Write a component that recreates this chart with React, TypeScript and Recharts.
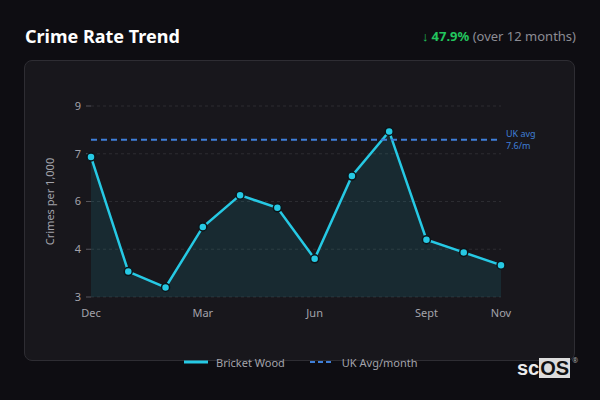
import React from 'react';
import {
  AreaChart,
  Area,
  XAxis,
  YAxis,
  CartesianGrid,
  ReferenceLine,
} from 'recharts';

// monthly crime rate, Dec -> Nov
const MONTHS = ['Dec', 'Jan', 'Feb', 'Mar', 'Apr', 'May', 'Jun', 'Jul', 'Aug', 'Sept', 'Oct', 'Nov'];
const RATES = [7.4, 3.8, 3.3, 5.2, 6.2, 5.8, 4.2, 6.8, 8.2, 4.8, 4.4, 4.0];
const SHOWN_MONTHS = ['Dec', 'Mar', 'Jun', 'Sept', 'Nov'];
const Y_TICKS = [3, 4.5, 6, 7.5, 9];
const UK_AVG_LINE = 7.94;
const UK_AVG_LABEL = ['UK avg', '7.6/m'];

const data = MONTHS.map((m, i) => ({ month: m, rate: RATES[i] }));

const FONT = '"Noto Sans", "Open Sans", sans-serif';
const CYAN = '#26c9e4';
const BLUE = '#3f7fd9';

const UkAvgLabel = ({ viewBox }: any) => {
  if (!viewBox) return null;
  const x = viewBox.x + viewBox.width + 5;
  const y = viewBox.y;
  return (
    <g fill={BLUE} fontSize={9} fontFamily={FONT}>
      <text x={x} y={y - 3}>{UK_AVG_LABEL[0]}</text>
      <text x={x} y={y + 9}>{UK_AVG_LABEL[1]}</text>
    </g>
  );
};

const App: React.FC = () => {
  return (
    <div
      style={{
        position: 'absolute',
        left: 0,
        top: 0,
        width: 600,
        height: 400,
        background: '#0e0d12',
        fontFamily: FONT,
        overflow: 'hidden',
      }}
    >
      <div style={{ position: 'absolute', left: 25, top: 24, fontSize: 18, fontWeight: 700, color: '#ffffff' }}>
        Crime Rate Trend
      </div>
      <div style={{ position: 'absolute', right: 24, top: 27, fontSize: 13, color: '#8c8c94' }}>
        <span style={{ color: '#22c55e', marginRight: 3 }}>↓</span>
        <span style={{ color: '#22c55e', fontWeight: 700 }}>47.9%</span> (over 12 months)
      </div>

      <div
        style={{
          position: 'absolute',
          left: 24,
          top: 60,
          width: 551,
          height: 301,
          boxSizing: 'border-box',
          background: '#18171c',
          border: '1px solid #2e2d33',
          borderRadius: 8,
        }}
      />

      <div style={{ position: 'absolute', left: 0, top: 0 }}>
        <AreaChart width={600} height={400} data={data} margin={{ top: 106, right: 99, left: 40, bottom: 73 }}>
          <CartesianGrid vertical={false} stroke="#2c2c31" strokeDasharray="3 3" />
          <XAxis
            dataKey="month"
            interval={0}
            axisLine={false}
            tickLine={false}
            tickMargin={6}
            height={30}
            tickFormatter={(v: string) => (SHOWN_MONTHS.includes(v) ? v : '')}
            tick={{ fill: '#a3a3ab', fontSize: 11, fontFamily: FONT }}
          />
          <YAxis
            domain={[3, 9]}
            ticks={Y_TICKS}
            width={51}
            axisLine={false}
            tickSize={5}
            tickMargin={5}
            tickLine={{ stroke: '#55555c' }}
            tickFormatter={(v: number) => String(Math.floor(v))}
            tick={{ fill: '#a3a3ab', fontSize: 11, fontFamily: FONT }}
            label={{
              value: 'Crimes per 1,000',
              angle: -90,
              position: 'insideLeft',
              offset: 10,
              style: { fill: '#a3a3ab', fontSize: 11, fontFamily: FONT, textAnchor: 'middle' },
            }}
          />
          <ReferenceLine
            y={UK_AVG_LINE}
            stroke={BLUE}
            strokeWidth={2}
            strokeDasharray="6 4"
            label={<UkAvgLabel />}
          />
          <Area
            type="linear"
            dataKey="rate"
            stroke={CYAN}
            strokeWidth={2.5}
            fill="#22d3ee"
            fillOpacity={0.1}
            baseValue={3}
            dot={{ r: 4, fill: CYAN, stroke: '#0c1418', strokeWidth: 1.5, fillOpacity: 1 }}
            activeDot={false}
            isAnimationActive={false}
          />
        </AreaChart>
      </div>

      {/* legend */}
      <div
        style={{
          position: 'absolute',
          left: 184,
          top: 354,
          height: 16,
          display: 'flex',
          alignItems: 'center',
          fontSize: 11,
          color: '#a3a3ab',
        }}
      >
        <svg width={24} height={4} style={{ marginRight: 8 }}>
          <line x1={0} y1={2} x2={24} y2={2} stroke={CYAN} strokeWidth={3} strokeLinecap="round" />
        </svg>
        <span style={{ marginRight: 25 }}>Bricket Wood</span>
        <svg width={24} height={4} style={{ marginRight: 8 }}>
          <line x1={0} y1={2} x2={24} y2={2} stroke={BLUE} strokeWidth={2} strokeDasharray="5 3" />
        </svg>
        <span>UK Avg/month</span>
      </div>

      {/* logo */}
      <div style={{ position: 'absolute', left: 517, top: 358, height: 20, display: 'flex', alignItems: 'center' }}>
        <span style={{ color: '#ececec', fontSize: 20, fontWeight: 700, fontFamily: '"Liberation Sans", Arial, sans-serif', lineHeight: '20px' }}>sc</span>
        <span
          style={{
            background: '#dcdcdc',
            color: '#111',
            fontSize: 20,
            fontWeight: 700,
            fontFamily: '"Liberation Sans", Arial, sans-serif',
            lineHeight: '20px',
            padding: '0 1px',
          }}
        >
          OS
        </span>
        <span style={{ color: '#aaa', fontSize: 7, alignSelf: 'flex-start', marginLeft: 2, marginTop: -2 }}>®</span>
      </div>
    </div>
  );
};

export default App;
